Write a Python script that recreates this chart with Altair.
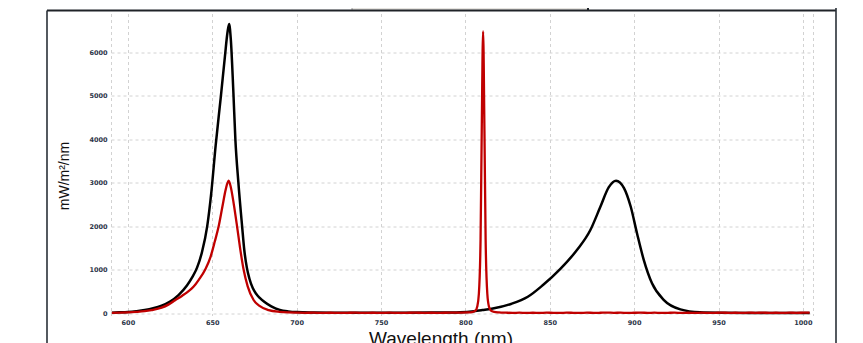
import altair as alt
import pandas as pd

# ---- data ----
black_nm = [590.5, 595, 600, 605, 610, 615, 620, 625, 630, 635, 638, 641, 644, 647, 649.5,
            652, 655, 657.5, 659, 660, 661, 662.5, 663.7, 665.5, 667.7, 669, 670.5, 672, 674,
            676, 678, 681, 685, 690, 695, 700, 710, 720, 740, 760, 780, 790, 797, 805, 810,
            817, 827, 837, 846, 856, 866, 874, 880, 885, 889.3, 894, 898, 901.7, 905.7,
            910.6, 917.5, 927.4, 939, 950, 970, 990, 1004]
black_val = [15, 22, 32, 50, 75, 115, 175, 270, 420, 640, 820, 1050, 1420, 2000, 2800,
             3850, 4950, 5900, 6450, 6650, 6300, 5100, 4000, 3000, 2000, 1450, 1050, 800, 580,
             450, 360, 260, 160, 80, 45, 28, 18, 14, 12, 14, 17, 20, 26, 50, 75,
             115, 215, 380, 650, 1010, 1450, 1910, 2450, 2900, 3050, 2880, 2450, 1840, 1230,
             690, 310, 90, 22, 12, 8, 7, 6]

red_nm = [590.5, 595, 600, 605, 610, 614, 620, 624, 628, 632, 636, 639, 642, 646, 649,
          651.5, 653.8, 656, 658, 659.7, 661, 662.8, 664.7, 666.5, 668.6, 671, 674.5, 678,
          683.4, 690, 695, 700, 705, 710, 715, 720, 725, 730, 735, 740, 745, 750, 755, 760,
          765, 770, 775, 780, 785, 790, 795, 798, 801, 804, 806, 807, 808, 809, 809.7,
          810.5, 811.3, 812, 813, 814, 815, 817, 820, 824, 828, 832, 836, 840, 844, 848,
          852, 856, 860, 864, 868, 872, 876, 880, 884, 888, 892, 896, 900, 904, 908, 912,
          916, 920, 924, 928, 932, 936, 940, 944, 948, 952, 956, 960, 964, 968, 972, 976,
          980, 984, 988, 992, 996, 1000, 1004]
red_val = [12, 16, 22, 33, 50, 75, 130, 200, 300, 400, 510, 615, 770, 1020, 1300,
           1650, 2000, 2450, 2850, 3050, 2900, 2500, 2000, 1500, 1000, 620, 306, 170,
           75, 35, 22, 16, 12, 14, 10, 13, 9, 12, 15, 10, 13, 11, 14, 10,
           12, 15, 11, 13, 12, 15, 16, 18, 22, 30, 60, 150, 450, 1700, 4200,
           6480, 4200, 1700, 450, 150, 70, 35, 22, 15, 10, 14, 9, 13, 10, 15,
           11, 9, 14, 12, 10, 15, 11, 13, 16, 12, 14, 10, 13, 15, 11, 14,
           9, 12, 15, 10, 13, 11, 14, 10, 12, 15, 11, 13, 10, 14, 12, 15,
           11, 13, 10, 14, 12, 15, 18]

x_grid = [590, 600, 650, 700, 750, 800, 850, 900, 950, 1000, 1006]
y_ticks = [0, 1000, 2000, 3000, 4000, 5000, 6000]

black_df = pd.DataFrame({"nm": black_nm, "val": black_val})
red_df = pd.DataFrame({"nm": red_nm, "val": red_val})

W, H = 702, 302

x_enc = alt.X("nm:Q", scale=alt.Scale(domain=[590, 1006], nice=False, zero=False),
              axis=alt.Axis(values=x_grid, format="d",
                            labelExpr="datum.value % 50 == 0 ? datum.label : ''",
                            grid=True, gridDash=[3, 3], gridColor="#d2d2d2", gridWidth=1,
                            domain=False, ticks=False, labelFontSize=6.5,
                            labelFont="DejaVu Sans", labelFontWeight="bold",
                            labelColor="#2b3548", labelPadding=4, title=None))
y_enc = alt.Y("val:Q", scale=alt.Scale(domain=[-50, 6893], nice=False, zero=False),
              axis=alt.Axis(values=y_ticks, format="d",
                            grid=True, gridDash=[3, 3], gridColor="#d2d2d2", gridWidth=1,
                            domain=False, ticks=False, labelFontSize=6.5,
                            labelFont="DejaVu Sans", labelFontWeight="bold",
                            labelColor="#2b3548", labelPadding=4, title=None))

black = alt.Chart(black_df).mark_line(color="#000000", strokeWidth=2.5,
                                      interpolate="monotone").encode(x=x_enc, y=y_enc)
red = alt.Chart(red_df).mark_line(color="#c00000", strokeWidth=2.3,
                                  interpolate="monotone").encode(x="nm:Q", y="val:Q")

one = pd.DataFrame({"k": [0]})

# decorative frame around the figure
box = alt.Chart(one).mark_rect(color="#e6e4e0", stroke="#9a9a9a", strokeWidth=1).encode(
    x=alt.value(241), x2=alt.value(477), y=alt.value(-6), y2=alt.value(-3))
box_r = alt.Chart(one).mark_rule(color="#1f2328", strokeWidth=2).encode(
    x=alt.value(477), y=alt.value(-6), y2=alt.value(-3))
frame_top = alt.Chart(one).mark_rule(color="#1f2328", strokeWidth=2.2).encode(
    x=alt.value(-64), x2=alt.value(725), y=alt.value(-3))
frame_left = alt.Chart(one).mark_rule(color="#2a3038", strokeWidth=1.6).encode(
    x=alt.value(-64), y=alt.value(-3), y2=alt.value(345))
frame_right = alt.Chart(one).mark_rule(color="#2a3038", strokeWidth=1.6).encode(
    x=alt.value(725), y=alt.value(-6), y2=alt.value(345))

ytitle = alt.Chart(one).mark_text(angle=270, fontSize=14, font="Liberation Sans",
                                  color="#111111", align="center", baseline="middle").encode(
    x=alt.value(-46), y=alt.value(162.5), text=alt.value("mW/m²/nm"))
xtitle = alt.Chart(one).mark_text(fontSize=19, font="Liberation Sans", color="#111111",
                                  align="center", baseline="alphabetic").encode(
    x=alt.value(330), y=alt.value(331.5), text=alt.value("Wavelength (nm)"))

chart = alt.layer(black, red, box, box_r, frame_top, frame_left, frame_right,
                  ytitle, xtitle).properties(
    width=W, height=H,
    padding={"left": 103, "top": 5.5, "right": 42, "bottom": 30},
    autosize=alt.AutoSizeParams(type="none"),
    background="#ffffff",
).configure_view(stroke="transparent")

chart.save("out.html", embed_options={"renderer": "svg", "actions": False})
